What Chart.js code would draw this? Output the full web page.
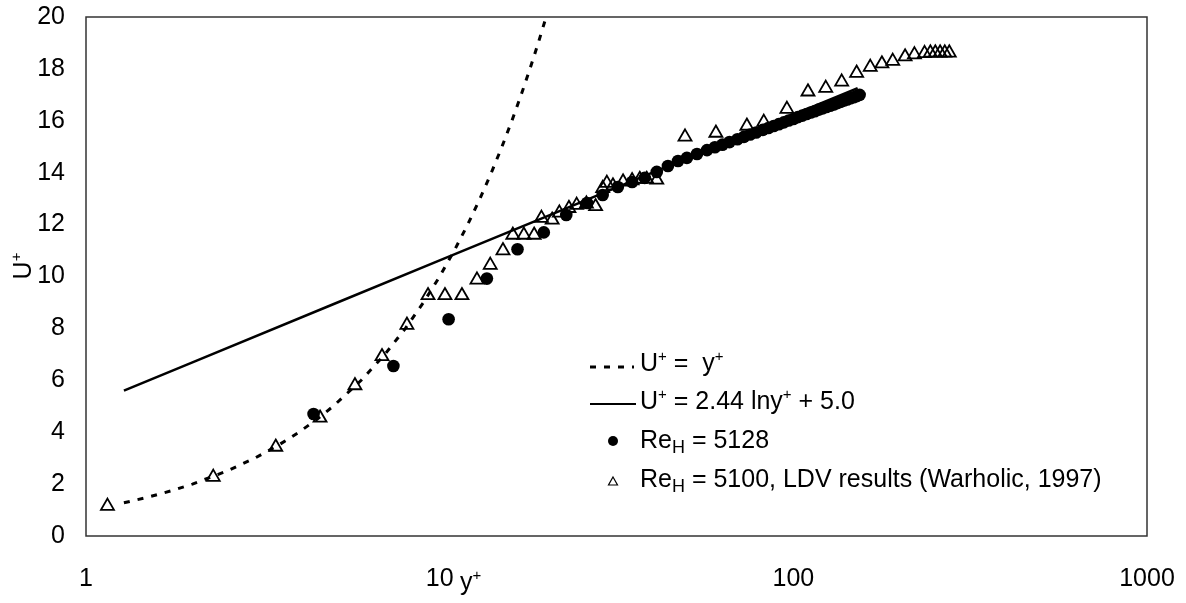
<!DOCTYPE html>
<html>
<head>
<meta charset="utf-8">
<script src="https://cdn.jsdelivr.net/npm/chart.js@4.4.1/dist/chart.umd.min.js"></script>
<style>
  html, body { margin: 0; padding: 0; background: #fff; }
</style>
</head>
<body>
<canvas id="myChart" width="1186" height="603"></canvas>
<script>
const FONT = '"Liberation Sans", Arial, sans-serif';

const xTicks = [1, 10, 100, 1000];

// U+ = y+ (viscous sublayer)
const viscousY = [1.28, 1.5, 1.75, 2, 2.5, 3, 3.5, 4, 4.5, 5, 6, 7, 8, 9, 10, 11, 12, 13, 14, 15, 16, 17, 18, 19, 20];
const viscousU = [1.28, 1.5, 1.75, 2, 2.5, 3, 3.5, 4, 4.5, 5, 6, 7, 8, 9, 10, 11, 12, 13, 14, 15, 16, 17, 18, 19, 20];

// U+ = 2.44 ln y+ + 5.0
const logLawY = [1.28, 2, 5, 10, 20, 50, 100, 152];
const logLawU = [5.60, 6.69, 8.93, 10.62, 12.31, 14.55, 16.24, 17.26];

// Re_H = 5128
const dnsY = [4.4, 7.4, 10.6, 13.6, 16.6, 19.7, 22.8, 26.1, 28.9, 31.9, 35.0, 38.0, 41.1, 44.2, 47.2, 50.0, 53.4, 57.0,
  60, 63, 66, 69.5, 72.5, 75.5, 78.5, 82, 85, 88, 91, 94, 97, 100, 103, 106, 109, 112, 115, 118, 121, 124, 127,
  130, 133, 136, 139, 142, 145, 148, 151, 154];
const dnsU = [4.7, 6.55, 8.35, 9.92, 11.05, 11.7, 12.37, 12.83, 13.14, 13.45, 13.64, 13.8, 14.03, 14.26, 14.45, 14.57, 14.72, 14.87,
  14.98, 15.08, 15.18, 15.29, 15.38, 15.47, 15.55, 15.65, 15.72, 15.80, 15.87, 15.94, 16.01, 16.07, 16.14, 16.20, 16.26, 16.32, 16.37, 16.43, 16.48, 16.53, 16.58,
  16.63, 16.68, 16.73, 16.78, 16.82, 16.87, 16.91, 16.95, 17.0];

// Re_H = 5100, LDV (Warholic, 1997)
const ldvY = [1.15, 2.29, 3.44, 4.59, 5.76, 6.87, 8.08, 9.27, 10.35, 11.56, 12.75, 13.9, 15.1, 16.1, 17.3, 18.5,
  19.4, 20.8, 21.8, 23.2, 24.4, 26.0, 27.6, 28.9, 29.7, 30.9, 33.0, 35.0, 36.8, 38.5, 41.1,
  49.4, 60.4, 73.9, 82.5, 95.9, 110, 123.5, 137, 151, 165, 178, 191, 207, 220, 235, 244, 252, 260, 268, 276];
const ldvU = [1.15, 2.27, 3.43, 4.55, 5.8, 6.92, 8.13, 9.27, 9.27, 9.27, 9.87, 10.44, 11.0, 11.6, 11.6, 11.6,
  12.25, 12.18, 12.45, 12.63, 12.75, 12.8, 12.7, 13.4, 13.6, 13.5, 13.65, 13.7, 13.75, 13.75, 13.72,
  15.38, 15.53, 15.8, 15.95, 16.45, 17.12, 17.26, 17.5, 17.84, 18.07, 18.2, 18.3, 18.47, 18.55, 18.6, 18.62, 18.62, 18.62, 18.62, 18.62];

function pts(xs, ys) { return xs.map((x, i) => ({ x: x, y: ys[i] })); }

function rich(ctx, x, y, parts) {
  for (const [t, size, dy] of parts) {
    ctx.font = size + 'px ' + FONT;
    ctx.fillText(t, x, y + dy);
    x += ctx.measureText(t).width;
  }
  return x;
}
function richWidth(ctx, parts) {
  let w = 0;
  for (const [t, size] of parts) { ctx.font = size + 'px ' + FONT; w += ctx.measureText(t).width; }
  return w;
}

// frame around plot area
const frame = {
  id: 'frame',
  beforeDatasetsDraw(chart) {
    const a = chart.chartArea, ctx = chart.ctx;
    ctx.save();
    ctx.strokeStyle = '#333';
    ctx.lineWidth = 1.5;
    ctx.strokeRect(a.left, a.top, a.right - a.left, a.bottom - a.top);
    ctx.restore();
  }
};

// axis titles + legend (needs super/subscripts)
const extras = {
  id: 'extras',
  afterDraw(chart) {
    const ctx = chart.ctx;
    ctx.save();
    ctx.fillStyle = '#000';
    ctx.textBaseline = 'alphabetic';
    ctx.textAlign = 'left';

    // y title, rotated
    const yt = [['U', 25, 0], ['+', 15, -10]];
    ctx.save();
    ctx.translate(31, 266);
    ctx.rotate(-Math.PI / 2);
    rich(ctx, -richWidth(ctx, yt) / 2, 0, yt);
    ctx.restore();

    // x title
    rich(ctx, 460, 590, [['y', 25, 0], ['+', 15, -10]]);

    // legend
    ctx.strokeStyle = '#000';
    ctx.lineWidth = 3;
    ctx.setLineDash([6, 8]);
    ctx.beginPath(); ctx.moveTo(590, 367); ctx.lineTo(634, 367); ctx.stroke();
    ctx.setLineDash([]);
    ctx.lineWidth = 2;
    ctx.beginPath(); ctx.moveTo(590, 404); ctx.lineTo(636, 404); ctx.stroke();
    ctx.beginPath(); ctx.arc(613, 441, 5, 0, Math.PI * 2); ctx.fill();
    ctx.lineWidth = 1.2;
    ctx.beginPath();
    ctx.moveTo(613, 477); ctx.lineTo(617.5, 485); ctx.lineTo(608.5, 485); ctx.closePath(); ctx.stroke();

    rich(ctx, 640, 371, [['U', 25, 0], ['+', 15, -10], [' =  y', 25, 0], ['+', 15, -10]]);
    rich(ctx, 640, 409, [['U', 25, 0], ['+', 15, -10], [' = 2.44 lny', 25, 0], ['+', 15, -10], [' + 5.0', 25, 0]]);
    rich(ctx, 640, 448, [['Re', 25, 0], ['H', 18, 5], [' = 5128', 25, 0]]);
    rich(ctx, 640, 487, [['Re', 25, 0], ['H', 18, 5], [' = 5100, LDV results (Warholic, 1997)', 25, 0]]);
    ctx.restore();
  }
};

new Chart(document.getElementById('myChart'),
  {
    type: 'scatter',
    data:
    {
      datasets:
      [
        {
          label: 'Re_H = 5128',
          data: pts(dnsY, dnsU),
          pointStyle: 'circle',
          pointRadius: 6.3,
          backgroundColor: '#000',
          borderColor: '#000',
          borderWidth: 0,
          order: 0
        },
        {
          label: 'Re_H = 5100, LDV results (Warholic, 1997)',
          data: pts(ldvY, ldvU),
          pointStyle: 'triangle',
          pointRadius: 7.5,
          backgroundColor: 'rgba(0,0,0,0)',
          borderColor: '#000',
          borderWidth: 1.8,
          order: 1
        },
        {
          label: 'U+ = y+',
          data: pts(viscousY, viscousU),
          showLine: true,
          pointRadius: 0,
          borderColor: '#000',
          borderWidth: 3,
          borderDash: [6, 8],
          order: 2
        },
        {
          label: 'U+ = 2.44 lny+ + 5.0',
          data: pts(logLawY, logLawU),
          showLine: true,
          pointRadius: 0,
          borderColor: '#000',
          borderWidth: 2.5,
          order: 3
        }
      ]
    },
    options:
    {
      responsive: false,
      animation: false,
      events: [],
      layout: { padding: { top: 17, right: 39, left: 0, bottom: 0 } },
      plugins:
      {
        legend: { display: false },
        tooltip: { enabled: false }
      },
      scales:
      {
        x:
        {
          type: 'logarithmic',
          min: 1,
          max: 1000,
          grid: { display: false, drawTicks: false },
          border: { display: false },
          afterBuildTicks: (s) => { s.ticks = xTicks.map(v => ({ value: v })); },
          afterFit: (s) => { s.height = 67; s.paddingLeft = 0; s.paddingRight = 0; },
          ticks:
          {
            color: '#000',
            font: { family: FONT, size: 25 },
            padding: 28,
            maxRotation: 0,
            autoSkip: false,
            callback: (v) => String(v)
          }
        },
        y:
        {
          min: 0,
          max: 20,
          grid: { display: false, drawTicks: false },
          border: { display: false },
          afterFit: (s) => { s.width = 86; s.paddingTop = 0; s.paddingBottom = 0; },
          ticks:
          {
            stepSize: 2,
            color: '#000',
            font: { family: FONT, size: 25 },
            padding: 21
          }
        }
      }
    },
    plugins: [frame, extras]
  }
);
</script>
</body>
</html>
